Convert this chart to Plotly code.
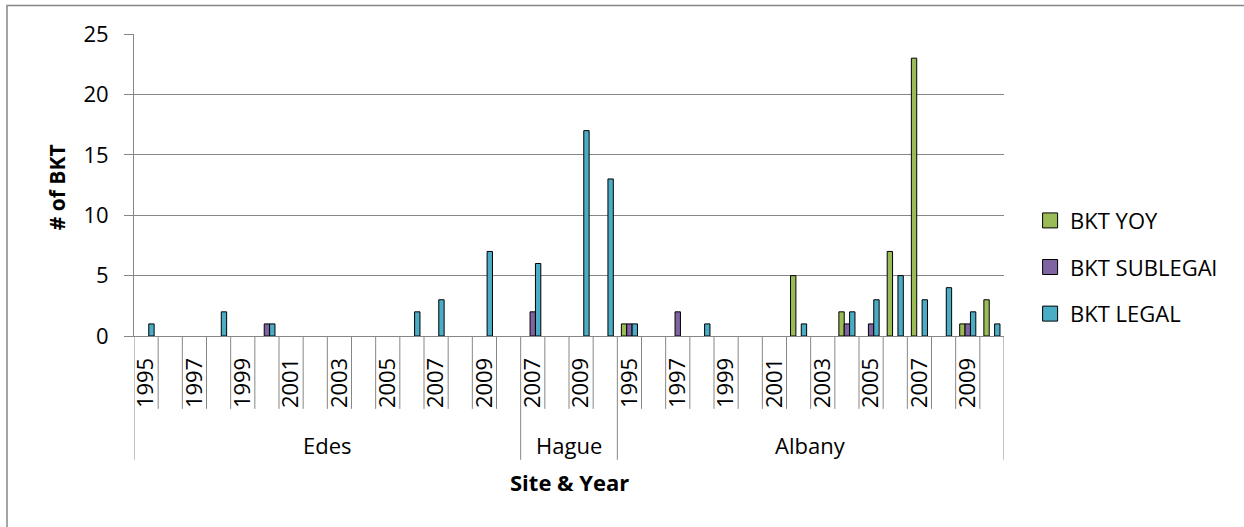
import plotly.graph_objects as go

# Sites and the years measured at each
edes_years = [1995, 1996, 1997, 1998, 1999, 2000, 2001, 2002,
              2003, 2004, 2005, 2006, 2007, 2008, 2009, 2010]
hague_years = [2007, 2008, 2009, 2010]
albany_years = [1995, 1996, 1997, 1998, 1999, 2000, 2001, 2002,
                2003, 2004, 2005, 2006, 2007, 2008, 2009, 2010]
site_names = ["Edes", "Hague", "Albany"]

# counts per year (None = blank cell)
edes_yoy = [None] * 16
edes_sublegal = [None, None, None, None, None, 1, None, None,
                 None, None, None, None, None, None, None, None]
edes_legal = [1, None, None, 2, None, 1, None, None,
              None, None, None, 2, 3, None, 7, None]

hague_yoy = [None, None, None, None]
hague_sublegal = [2, None, None, None]
hague_legal = [6, None, 17, 13]

albany_yoy = [1, None, None, None, None, None, None, 5,
              None, 2, None, 7, 23, None, 1, 3]
albany_sublegal = [1, None, 2, None, None, None, None, None,
                   None, 1, 1, None, None, None, 1, None]
albany_legal = [1, None, None, 1, None, None, None, 1,
                None, 2, 3, 5, 3, 4, 2, 1]

series_names = ["BKT YOY", "BKT SUBLEGAl", "BKT LEGAL"]
series_colors = ["#9BBB59", "#8064A2", "#4BACC6"]

site_years = [edes_years, hague_years, albany_years]
years = edes_years + hague_years + albany_years
series_values = [
    edes_yoy + hague_yoy + albany_yoy,
    edes_sublegal + hague_sublegal + albany_sublegal,
    edes_legal + hague_legal + albany_legal,
]
x_idx = list(range(len(years)))

FONT = "Open Sans"
FS = 22
GRAY = "#868686"

fig = go.Figure()
for i, (name, vals) in enumerate(zip(series_names, series_values)):
    fig.add_trace(go.Bar(
        x=x_idx, y=vals, name=name, legendgroup=name, showlegend=False,
        marker=dict(color=series_colors[i], line=dict(color="black", width=1)),
    ))
    # square legend swatch like Excel's
    fig.add_trace(go.Scatter(
        x=[None], y=[None], mode="markers", name=name, legendgroup=name,
        marker=dict(symbol="square", size=15, color=series_colors[i],
                    line=dict(color="black", width=1)),
    ))

# odd years get a label, like the original
tick_vals = [i for i, y in enumerate(years) if y % 2 == 1]
tick_text = [str(years[i]) for i in tick_vals]

plot_h = 336 - 33.5
def py(px):  # pixel offset below the axis -> paper y
    return -px / plot_h

shapes = []
annotations = []
start = 0
group_edges = [-0.5]
for name, yrs in zip(site_names, site_years):
    end = start + len(yrs)
    group_edges.append(end - 0.5)
    # short separators between years inside the group
    for k in range(start, end - 1):
        shapes.append(dict(type="line", xref="x", yref="paper",
                           x0=k + 0.5, x1=k + 0.5, y0=0, y1=py(73),
                           line=dict(color=GRAY, width=1)))
    annotations.append(dict(text=name, x=(start + end - 1) / 2, xref="x",
                            y=py(109), yref="paper", showarrow=False,
                            font=dict(size=FS, color="black", family=FONT),
                            xanchor="center", yanchor="middle"))
    start = end
for e in group_edges:
    shapes.append(dict(type="line", xref="x", yref="paper",
                       x0=e, x1=e, y0=0, y1=py(124),
                       line=dict(color=GRAY, width=1)))

# outer chart border
shapes.append(dict(type="rect", xref="paper", yref="paper",
                   x0=(7 - 134) / 870, x1=2, y0=-2, y1=(336 - 5) / plot_h,
                   line=dict(color=GRAY, width=1.5), layer="below"))

annotations.append(dict(text="<b>Site & Year</b>", x=0.5, xref="paper",
                        y=py(146), yref="paper", showarrow=False,
                        xanchor="center", yanchor="middle",
                        font=dict(size=FS, color="black", family=FONT)))
annotations.append(dict(text="<b># of BKT</b>", x=(57 - 134) / 870, xref="paper",
                        y=(336 - 187) / plot_h, yref="paper", showarrow=False,
                        textangle=-90, xanchor="center", yanchor="middle",
                        font=dict(size=21, color="black", family=FONT)))

fig.update_layout(
    width=1244, height=527,
    margin=dict(l=134, r=240, t=33.5, b=191),
    plot_bgcolor="white", paper_bgcolor="white",
    barmode="group", bargap=1/3, bargroupgap=0,
    font=dict(family=FONT, size=FS, color="black"),
    shapes=shapes, annotations=annotations,
    legend=dict(x=1.03, xanchor="left", y=(336 - 267) / plot_h, yanchor="middle",
                tracegroupgap=15, font=dict(size=FS, family=FONT),
                bgcolor="rgba(0,0,0,0)"),
)
fig.update_xaxes(range=[-0.5, len(years) - 0.5], showgrid=False, zeroline=False,
                 showline=True, linecolor=GRAY, linewidth=1,
                 tickmode="array", tickvals=tick_vals, ticktext=tick_text,
                 tickangle=-90, ticks="", ticklabelstandoff=12,
                 tickfont=dict(size=FS, family=FONT, color="black"))
fig.update_yaxes(range=[0, 25], dtick=5, showgrid=True, gridcolor=GRAY, gridwidth=1,
                 zeroline=False, showline=True, linecolor=GRAY, linewidth=1,
                 ticks="outside", ticklen=9, tickcolor=GRAY,
                 ticklabelstandoff=11,
                 tickfont=dict(size=FS, family=FONT, color="black"))

# drop the page's default body margin so the chart sits at the top-left
fig.write_html("out.html", config={"displayModeBar": False},
               post_script="document.body.style.margin='0';")
